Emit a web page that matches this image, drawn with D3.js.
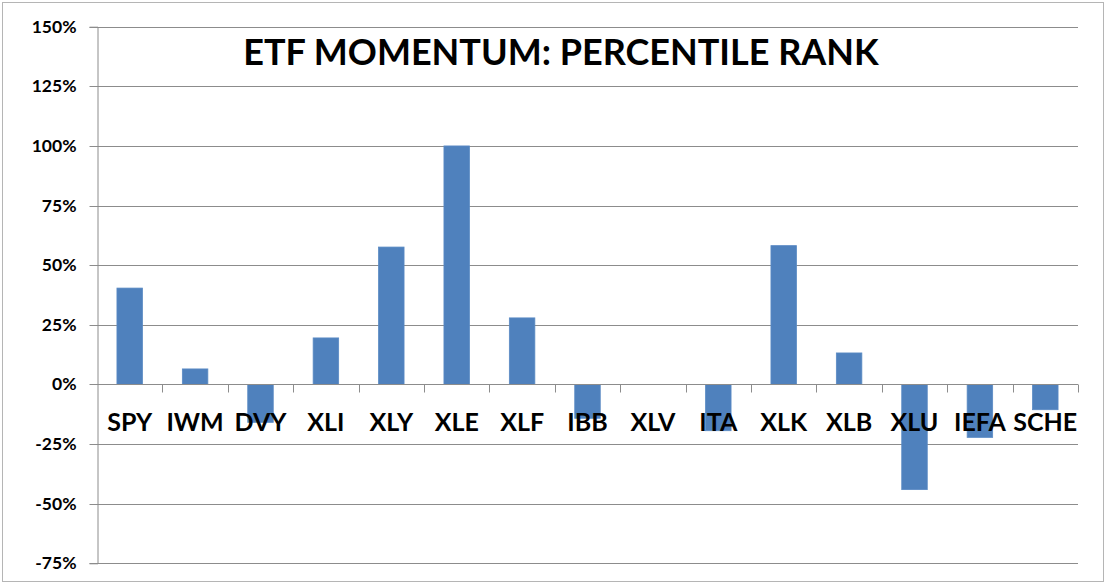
<!DOCTYPE html>
<html><head><meta charset="utf-8">
<script src="https://cdn.jsdelivr.net/npm/d3@7/dist/d3.min.js"></script>
<style>body{margin:0;background:#fff;}svg{display:block;font-family:Lato,"Open Sans",sans-serif;}</style>
</head><body>
<svg id="c" width="1108" height="586"></svg>
<script>
const categories = ["SPY","IWM","DVY","XLI","XLY","XLE","XLF","IBB","XLV","ITA","XLK","XLB","XLU","IEFA","SCHE"];
const values = [0.404,0.065,-0.159,0.195,0.576,1.0,0.279,-0.142,0,-0.194,0.582,0.132,-0.441,-0.222,-0.106];
const yTicks = [-0.75,-0.5,-0.25,0,0.25,0.5,0.75,1.0,1.25,1.5];
const title = "ETF MOMENTUM: PERCENTILE RANK";

(function(){
const svg = d3.select("#c");
const pLeft = 97, pRight = 1078, pTop = 26.7, pBottom = 563.3;
const x = d3.scaleBand().domain(categories).range([pLeft, pRight]).paddingInner(0.61).paddingOuter(0.305);
const xb = d3.scaleBand().domain(categories).range([pLeft, pRight]);
const y = d3.scaleLinear().domain([-0.75, 1.5]).range([pBottom, pTop]);
const fmt = d3.formatLocale({decimal:".",thousands:",",grouping:[3],currency:["$",""],minus:"-"}).format(".0%");

// outer frame
svg.append("rect").attr("x",2.5).attr("y",2.5).attr("width",1101).attr("height",579)
  .attr("fill","none").attr("stroke","#b5b5b5");

// gridlines
svg.append("g").selectAll("line").data(yTicks).join("line")
  .attr("x1",pLeft).attr("x2",pRight)
  .attr("y1",d=>Math.round(y(d))+0.5).attr("y2",d=>Math.round(y(d))+0.5)
  .attr("stroke","#8c8c8c").attr("stroke-width",1);

// y axis
const yAxis = d3.axisLeft(y).tickValues(yTicks).tickSize(8).tickPadding(13).tickFormat(fmt);
const gy = svg.append("g").attr("transform",`translate(${pLeft+0.5},0)`).call(yAxis);
gy.select(".domain").attr("stroke","#8c8c8c");
gy.selectAll(".tick line").attr("stroke","#8c8c8c");
gy.selectAll(".tick").attr("transform",d=>`translate(0,${Math.round(y(d))+0.5})`);
gy.selectAll("text").attr("font-size",17.5).attr("font-weight","bold").attr("fill","#000")
  .attr("font-family","Lato");

// bars
svg.append("g").selectAll("rect").data(categories).join("rect")
  .attr("x",d=>x(d))
  .attr("width",x.bandwidth())
  .attr("y",(d,i)=>values[i]>=0?y(values[i]):y(0))
  .attr("height",(d,i)=>Math.abs(y(values[i])-y(0)))
  .attr("fill","#4F81BD").attr("stroke","#5a8ac4").attr("stroke-width",0.8);

// x axis at zero
const y0 = Math.round(y(0))+0.5;
svg.append("line").attr("x1",pLeft).attr("x2",pRight).attr("y1",y0).attr("y2",y0).attr("stroke","#8c8c8c");
const bounds = categories.map(c=>xb(c)+xb.bandwidth());
svg.append("g").selectAll("line").data(bounds).join("line")
  .attr("x1",d=>Math.round(d)+0.5).attr("x2",d=>Math.round(d)+0.5)
  .attr("y1",y0).attr("y2",y0+8).attr("stroke","#8c8c8c");

// category labels
svg.append("g").selectAll("text").data(categories).join("text")
  .attr("x",d=>xb(d)+xb.bandwidth()/2)
  .attr("y",431)
  .attr("text-anchor","middle")
  .attr("font-size",25).attr("font-weight","bold").attr("fill","#000")
  .text(d=>d);

// title
svg.append("text").attr("x",561).attr("y",65).attr("text-anchor","middle")
  .attr("font-size",36).attr("font-weight","bold").attr("fill","#000").text(title);
})();
</script>
</body></html>
